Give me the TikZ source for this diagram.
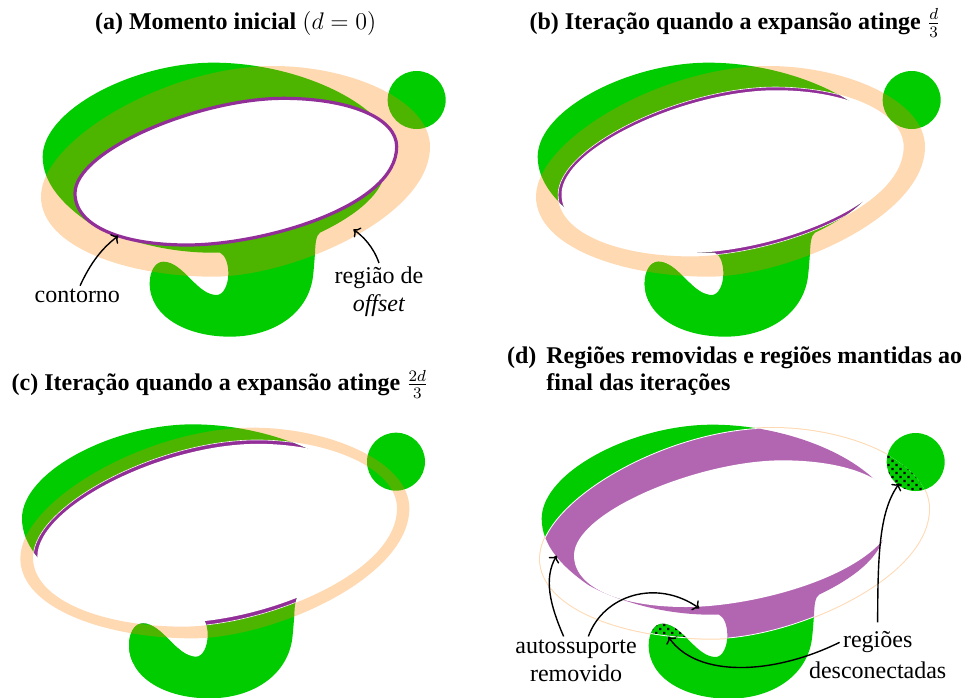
\documentclass[tikz,border=0pt]{standalone}
\usepackage{fontspec}
\setmainfont{Liberation Serif}
\usetikzlibrary{patterns.meta, arrows.meta}

\definecolor{bodygreen}{RGB}{0,204,0}
\definecolor{contourviolet}{RGB}{146,46,152}

\tikzset{
	bodyfill/.style={fill=bodygreen},
	ringfill/.style={fill=orange, fill opacity=0.3, even odd rule},
	removedfill/.style={fill=violet, fill opacity=0.6},
	dotsfill/.style={pattern={Dots[distance=2.83pt, angle=45, radius=0.8pt]}, pattern color=black},
	lbl/.style={font=\large, inner sep=1.5pt},
	titulo/.style={font=\large, inner sep=0pt, anchor=base},
	seta/.style={-{Computer Modern Rightarrow[length=3pt, width=6pt]}, line width=0.7pt},
}

% curva de offset: 0 = contorno, 1 = limite externo
\newcommand{\offsetcurve}[1]{
	(1190+#1*100,440)
	.. controls (1190+#1*100,355-#1*55) and (1050,295-#1*97) .. (850-#1*30,295-#1*97)
	.. controls (600-#1*100,295-#1*97) and (225-#1*102,450-#1*30) .. (225-#1*102,580+#1*10)
	.. controls (225-#1*102,680+#1*60) and (370+#1*10,735+#1*95) .. (560+#1*80,735+#1*95)
	.. controls (790+#1*90,735+#1*95) and (1190+#1*100,620+#1*30) .. cycle}
% corpo verde com o gancho
\newcommand{\bodycurve}{
	(128,470)
	.. controls (128,330) and (400,188) .. (640,188)
	.. controls (820,188) and (1000,250) .. (1100,330)
	.. controls (1180,390) and (1180,470) .. (1155,520)
	.. controls (1140,590) and (1060,650) .. (960,698)
	.. controls (948,706) and (946,730) .. (945,760)
	.. controls (943,785) and (942,800) .. (940,820)
	.. controls (930,940) and (820,1010) .. (690,1010)
	.. controls (560,1010) and (449,950) .. (449,850)
	.. controls (449,815) and (465,785) .. (490,785)
	.. controls (550,785) and (590,885) .. (650,885)
	.. controls (670,885) and (685,855) .. (685,820)
	.. controls (685,790) and (675,765) .. (660,758)
	.. controls (560,760) and (470,745) .. (388,719)
	.. controls (345,706) and (305,690) .. (268,669)
	.. controls (190,615) and (128,550) .. cycle}
\newcommand{\circleshape}{(1250,300) circle (87)}
\newcommand{\earbox}{(430,770) rectangle (640,900)}

% iteracao: limite do anel, borda e interior do contorno
\newcommand{\iteration}[3]{
	\fill[bodyfill] \bodycurve;
	\begin{scope}
		\clip \bodycurve;
		\fill[contourviolet] \offsetcurve{#2};
		\draw[white, line width=0.3pt] \offsetcurve{#2};
	\end{scope}
	\fill[white] \offsetcurve{#3};
	\begin{scope}
		\clip \earbox;
		\fill[bodyfill] \bodycurve;
	\end{scope}
	\fill[bodyfill] \circleshape;
	\fill[ringfill] \offsetcurve{1} \offsetcurve{#1};
}

\begin{document}
\begin{tikzpicture}[x=0.16667pt, y=-0.16667pt]
	\useasboundingbox (0,0) rectangle (2895,2091);

	% (a)
	\node[titulo] (tituloa) at (707,88) {\textbf{(a) Momento inicial} $(d=0)$};
	\begin{scope}
		\fill[bodyfill] \bodycurve;
		\fill[white] \offsetcurve{0};
		\fill[bodyfill] \circleshape;
		\fill[ringfill] \offsetcurve{1} \offsetcurve{0};
		\draw[contourviolet, line width=1.6pt] \offsetcurve{0};
	\end{scope}
	\node[lbl] (contorno) at (232,888) {contorno};
	\node[lbl, align=center] (regiao) at (1137,874) {região de\\\textit{offset}};
	\coordinate (contornotip) at (355,707);
	\coordinate (regiaotip) at (1060,688);
	\draw[seta] (contorno.75) .. controls (280,770) and (320,735) .. (contornotip);
	\draw[seta] (regiao.north) .. controls (1120,740) and (1090,710) .. (regiaotip);

	% (b)
	\node[titulo] (titulob) at (2205,88) {\textbf{(b) Iteração quando a expansão atinge} $\frac{d}{3}$};
	\begin{scope}[shift={(1485,0)}]
		\iteration{0.36}{0.35}{0.25}
	\end{scope}

	% (c)
	\node[titulo] (tituloc) at (660,1172) {\textbf{(c) Iteração quando a expansão atinge} $\frac{2d}{3}$};
	\begin{scope}[shift={(-62,1085)}]
		\iteration{0.63}{0.62}{0.5}
	\end{scope}

	% (d)
	\node[titulo, anchor=base west] (titulod) at (1520,1090) {\textbf{(d)}};
	\node[titulo, anchor=base west] (titulodum) at (1638,1090) {\textbf{Regiões removidas e regiões mantidas ao}};
	\node[titulo, anchor=base west] (titulodois) at (1638,1171) {\textbf{final das iterações}};
	\begin{scope}[shift={(1497,1086)}]
		\draw[orange, opacity=0.3, line width=1pt] \offsetcurve{1};
		\fill[bodyfill] \bodycurve;
		\fill[bodyfill] \circleshape;
		\begin{scope}
			\clip \offsetcurve{1};
			\fill[white] (0,0) rectangle (1400,1100);
			\fill[removedfill] \bodycurve;
			\fill[white] \offsetcurve{0};
			\begin{scope}
				\clip \earbox;
				\fill[bodyfill] \bodycurve;
				\fill[dotsfill] \bodycurve;
			\end{scope}
			\fill[bodyfill] \circleshape;
			\fill[dotsfill] \circleshape;
		\end{scope}
		\begin{scope}
			\clip \bodycurve;
			\draw[white, line width=0.4pt] \offsetcurve{1};
		\end{scope}
	\end{scope}
	\node[lbl, align=center] (autossuporte) at (1728,1982) {autossuporte\\removido};
	\node[lbl] (regioes) at (2633,1927) {regiões};
	\node[lbl] (desconectadas) at (2633,2012) {desconectadas};
	\coordinate (bordatip) at (1670,1667);
	\coordinate (fundotip) at (2098,1825);
	\coordinate (circulotip) at (2698,1450);
	\coordinate (ganchotip) at (2005,1910);
	\draw[seta] (autossuporte.117) .. controls (1650,1815) and (1630,1735) .. (bordatip);
	\draw[seta] (autossuporte.63) .. controls (1810,1785) and (1970,1735) .. (fundotip);
	\draw[seta] ([yshift=3pt]regioes.north) .. controls (2633,1650) and (2640,1530) .. (circulotip);
	\draw[seta] (regioes.west) .. controls (2320,2025) and (2090,2035) .. (ganchotip);
\end{tikzpicture}
\end{document}
